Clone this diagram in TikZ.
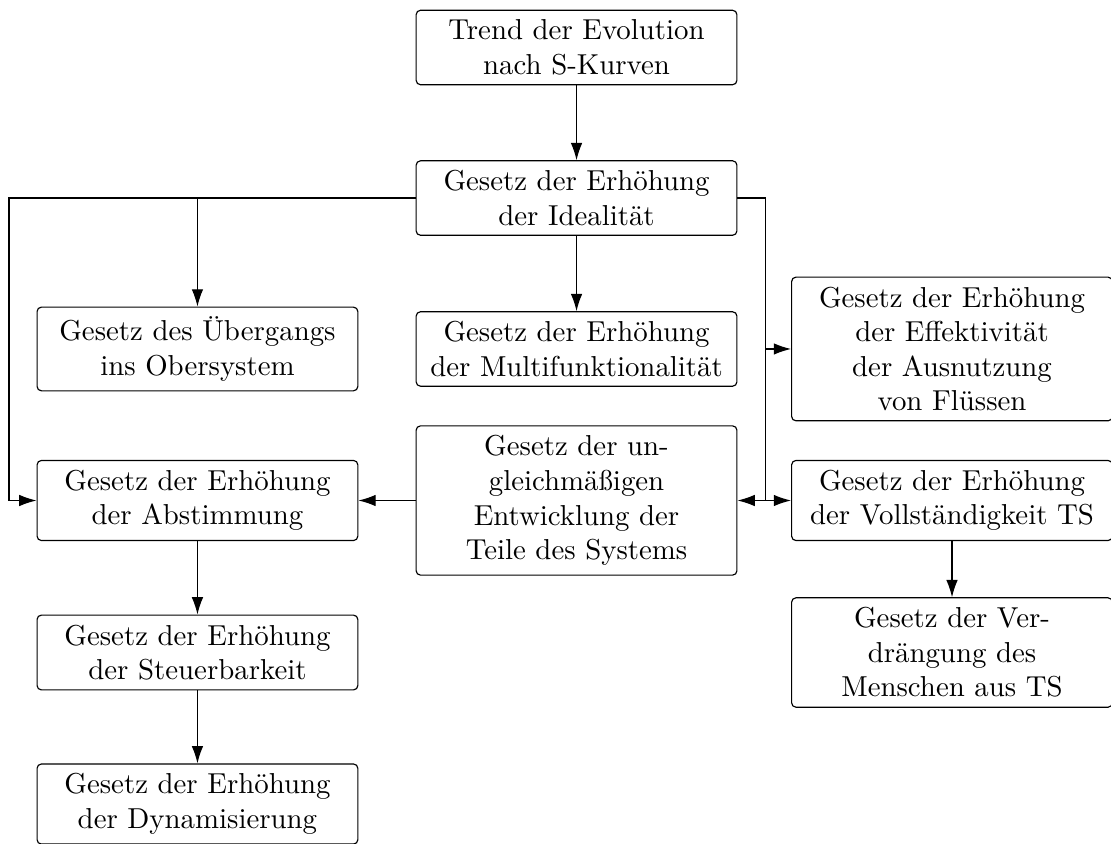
\documentclass[tikz,border=0pt]{standalone}
\usepackage{tikz}
\usetikzlibrary{arrows.meta,positioning,calc}

\begin{document}
\begin{tikzpicture}[>={Latex[length=6pt,width=4pt]}]
    \tikzset{law/.style={rounded corners=1.5pt,draw=black,line width=0.4pt,
      minimum width=3.91cm,align=center},
      link/.style={->,line width=0.4pt}}
    \useasboundingbox (0,0) rectangle (13.543,-10.288);
    \node[law] (trend) at (7.028,-0.579) {Trend der Evolution\\nach S-Kurven};
    \node[law] (ideal) at (7.028,-2.414) {Gesetz der Erhöhung\\der Idealität};
    \node[law] (ueber) at (2.407,-4.254) {Gesetz des Übergangs\\ins Obersystem};
    \node[law] (multi) at (7.028,-4.254) {Gesetz der Erhöhung\\der Multifunktionalität};
    \node[law] (effekt) at (11.605,-4.254) {Gesetz der Erhöhung\\der Effektivität\\der Ausnutzung\\von Flüssen};
    \node[law] (abst) at (2.407,-6.101) {Gesetz der Erhöhung\\der Abstimmung};
    \node[law] (ungl) at (7.028,-6.101) {Gesetz der un-\\gleichmäßigen\\Entwicklung der\\Teile des Systems};
    \node[law] (voll) at (11.605,-6.101) {Gesetz der Erhöhung\\der Vollständigkeit TS};
    \node[law] (steuer) at (2.407,-7.954) {Gesetz der Erhöhung\\der Steuerbarkeit};
    \node[law] (verdr) at (11.605,-7.954) {Gesetz der Ver-\\drängung des\\Menschen aus TS};
    \node[law] (dyn) at (2.407,-9.801) {Gesetz der Erhöhung\\der Dynamisierung};
    % side rails
    \coordinate (railL) at (0.11,0);
    \coordinate (railR) at (9.33,0);
    \draw[link] (trend) -- (ideal);
    \draw[link] (ideal) -- (multi);
    \draw[link] (ideal.west) -| (ueber.north);
    \draw[link] (ideal.west) -- (railL |- ideal.west) |- (abst.west);
    \draw (ideal.east) -| (railR |- voll.west);
    \draw[link] (railR |- effekt.west) -- (effekt.west);
    \draw[link] (railR |- voll.west) -- (voll.west);
    \draw[link] (railR |- voll.west) -- (ungl.east);
    \draw[link] (ungl.west) -- (abst.east);
    \draw[link] (abst) -- (steuer);
    \draw[link] (steuer) -- (dyn);
    \draw[link] (voll) -- (verdr);
  \end{tikzpicture}
\end{document}
